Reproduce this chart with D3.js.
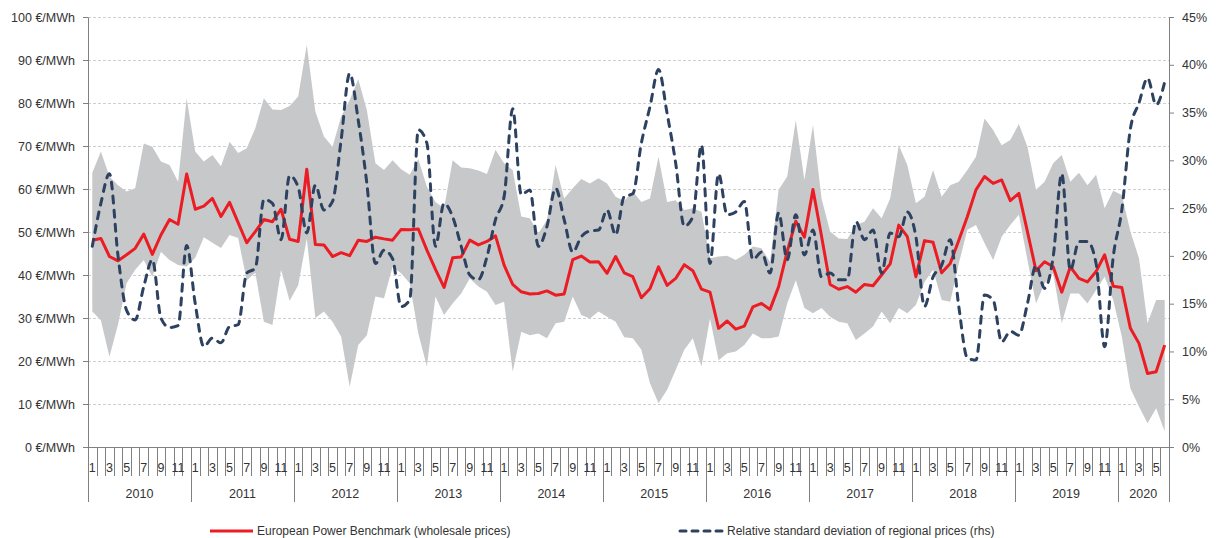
<!DOCTYPE html>
<html>
<head>
<meta charset="utf-8">
<script src="https://cdn.jsdelivr.net/npm/d3@7"></script>
<style>
  body { margin: 0; background: #fff; }
  svg { font-family: "Liberation Sans", Arial, sans-serif; }
  .axis text { fill: #333; font-size: 12.5px; }
  .axis path, .axis line { stroke: #808080; }
  .mlabel { opacity: 0.999; }
</style>
</head>
<body>
<div id="chart"></div>
<script>
// categories: monthly, Jan 2010 - Jun 2020
var years = [2010, 2011, 2012, 2013, 2014, 2015, 2016, 2017, 2018, 2019, 2020];
var monthsInYear = [12, 12, 12, 12, 12, 12, 12, 12, 12, 12, 6];
var monthLabels = ['1', '', '3', '', '5', '', '7', '', '9', '', '11', ''];

// European Power Benchmark (EUR/MWh)
var benchmark = [
  48.1, 48.5, 44.3, 43.3, 44.7, 46.2, 49.5, 44.8, 49.3, 52.9, 51.8, 63.5,
  55.3, 56.0, 57.8, 53.6, 56.9, 52.2, 47.5, 50.1, 52.9, 52.4, 55.3, 48.3,
  47.8, 64.6, 47.1, 47.0, 44.3, 45.2, 44.5, 48.1, 47.8, 48.8, 48.4, 48.1,
  50.6, 50.5, 50.7, 45.8, 41.3, 37.1, 44.0, 44.2, 48.1, 47.0, 47.8, 49.1,
  42.3, 37.8, 36.1, 35.6, 35.7, 36.3, 35.3, 35.6, 43.6, 44.4, 43.0, 43.1,
  40.4, 44.3, 40.5, 39.6, 34.7, 36.8, 41.9, 37.6, 39.2, 42.4, 41.0, 36.7,
  36.0, 27.6, 29.3, 27.4, 28.1, 32.6, 33.4, 32.0, 37.3, 45.5, 52.5, 48.8,
  59.9, 49.0, 37.8, 36.7, 37.3, 36.0, 37.8, 37.5, 40.0, 42.6, 51.6, 48.9,
  39.6, 48.0, 47.6, 40.5, 42.7, 48.1, 53.6, 59.8, 62.9, 61.3, 62.1, 57.3,
  59.0, 50.1, 41.0, 43.1, 41.9, 36.0, 41.9, 39.2, 38.4, 40.8, 44.7, 37.4,
  37.1, 27.6, 24.1, 17.1, 17.5, 23.7
];

// relative standard deviation of regional prices (%, rhs)
var relStdDev = [
  21.0, 25.5, 28.6, 20.0, 14.3, 13.3, 16.8, 19.6, 13.5, 12.5, 12.7, 21.1,
  15.0, 10.5, 11.4, 10.9, 12.6, 12.8, 18.2, 18.7, 25.9, 25.5, 21.7, 28.4,
  27.2, 22.4, 27.4, 24.8, 25.7, 32.1, 39.1, 34.2, 27.6, 19.2, 20.6, 19.7,
  14.7, 15.4, 33.2, 31.8, 21.0, 25.5, 24.1, 21.0, 18.0, 17.5, 19.9, 23.8,
  26.2, 35.4, 26.4, 26.9, 21.0, 23.1, 27.1, 23.8, 20.4, 22.0, 22.6, 22.7,
  24.8, 22.2, 26.2, 26.5, 31.8, 35.6, 39.5, 34.9, 29.7, 23.1, 24.1, 31.6,
  19.2, 28.6, 24.3, 24.6, 25.7, 19.6, 20.4, 18.2, 24.5, 19.6, 24.3, 20.1,
  22.7, 17.8, 18.2, 17.5, 17.5, 23.6, 21.7, 22.7, 18.2, 22.4, 22.0, 24.6,
  22.0, 14.7, 17.8, 19.0, 21.7, 14.7, 9.3, 9.1, 15.9, 15.4, 11.0, 12.1,
  11.7, 15.0, 19.0, 16.6, 19.9, 28.6, 18.5, 21.5, 21.5, 19.2, 10.5, 19.9,
  24.8, 33.3, 36.0, 38.6, 35.8, 38.2
];

// min / max of regional prices (grey band, EUR/MWh)
var rangeHigh = [
  63.8, 68.7, 62.9, 60.9, 59.4, 60.2, 70.6, 69.8, 66.4, 65.6, 61.7, 81.1,
  68.7, 66.4, 67.9, 65.3, 71.0, 68.4, 69.5, 74.1, 81.1, 78.5, 78.4, 79.3,
  81.5, 93.5, 78.0, 72.2, 69.8, 76.8, 80.7, 85.5, 78.4, 66.0, 64.4, 66.7,
  64.6, 63.3, 67.0, 60.5, 57.0, 55.5, 66.7, 65.0, 64.8, 64.3, 63.5, 69.1,
  66.0, 64.4, 53.6, 53.2, 49.7, 52.8, 65.6, 57.8, 60.2, 62.3, 61.3, 62.5,
  61.3, 58.2, 57.2, 59.4, 57.0, 57.8, 67.5, 57.0, 57.4, 55.1, 55.5, 54.7,
  43.9, 44.3, 44.5, 43.5, 44.7, 46.6, 46.2, 43.0, 59.8, 62.9, 76.0, 62.1,
  74.9, 57.8, 50.1, 48.5, 48.4, 51.6, 52.4, 55.5, 53.2, 57.8, 70.2, 65.6,
  56.7, 58.2, 64.4, 58.2, 60.9, 61.7, 64.4, 67.5, 76.4, 73.7, 70.2, 71.4,
  75.1, 69.8, 59.8, 61.7, 66.0, 67.9, 61.7, 63.8, 60.9, 63.3, 55.5, 59.6,
  58.6, 50.1, 43.9, 28.8, 34.2, 34.2
];
var rangeLow = [
  31.5, 29.5, 21.0, 28.5, 38.1, 41.2, 43.5, 39.6, 45.4, 43.5, 42.3, 42.0,
  44.0, 48.8, 47.5, 46.3, 49.3, 48.6, 38.8, 40.5, 29.1, 28.4, 41.2, 34.0,
  37.6, 48.5, 30.0, 31.5, 29.1, 25.7, 14.0, 23.7, 26.0, 35.0, 34.6, 41.9,
  40.4, 38.1, 26.4, 18.7, 35.0, 30.7, 33.4, 35.7, 39.2, 37.3, 36.1, 33.0,
  33.8, 17.5, 26.8, 26.0, 26.4, 25.3, 28.8, 29.1, 35.0, 30.7, 29.9, 31.5,
  30.3, 29.1, 25.5, 25.3, 22.6, 14.8, 10.2, 13.3, 17.9, 22.6, 25.3, 18.7,
  29.9, 20.2, 21.8, 22.2, 23.7, 26.4, 25.3, 25.3, 25.7, 33.4, 38.8, 32.3,
  31.1, 32.3, 30.3, 29.1, 28.8, 24.9, 26.4, 28.0, 31.5, 28.8, 32.3, 31.1,
  33.0, 38.4, 41.2, 34.2, 33.8, 42.7, 50.5, 51.6, 47.4, 43.5, 48.9, 51.6,
  54.0, 43.5, 33.4, 38.1, 40.4, 28.8, 35.7, 35.7, 33.4, 36.5, 39.6, 34.2,
  25.7, 13.6, 9.4, 5.5, 9.0, 3.6
];

var width = 1218,
  height = 538,
  margin = { left: 88, right: 49, top: 17, bottom: 91 },
  red = '#ec1c24',
  navy = '#2d4160',
  grey = '#c7c8ca';

// build month table from the categories
var months = [];
years.forEach(function(y, yi) {
  for (var m = 0; m < monthsInYear[yi]; m++) {
    months.push({ year: y, month: m, yi: yi });
  }
});
var data = months.map(function(d, i) {
  return { i: i, month: d.month, year: d.year, bench: benchmark[i], rsd: relStdDev[i], lo: rangeLow[i], hi: rangeHigh[i] };
});

var svg = d3.select('#chart').append('svg')
  .attr('width', width)
  .attr('height', height);

var x = d3.scaleBand()
  .domain(d3.range(data.length))
  .range([margin.left, width - margin.right])
  .padding(0);
var bw = x.bandwidth();
var cx = function(i) { return x(i) + bw / 2; };
var plotBottom = height - margin.bottom;

var yLeft = d3.scaleLinear().domain([0, 100]).range([plotBottom, margin.top]);
var yRight = d3.scaleLinear().domain([0, 45]).range([plotBottom, margin.top]);

// gridlines
svg.append('g').attr('class', 'grid')
  .selectAll('line')
  .data(d3.range(10, 101, 10))
  .enter().append('line')
    .attr('x1', margin.left)
    .attr('x2', width - margin.right)
    .attr('y1', function(d) { return yLeft(d) + 0.5; })
    .attr('y2', function(d) { return yLeft(d) + 0.5; })
    .attr('stroke', '#cfcfcf')
    .attr('stroke-dasharray', '3,2');

// grey band
var area = d3.area()
  .x(function(d) { return cx(d.i); })
  .y0(function(d) { return yLeft(d.lo); })
  .y1(function(d) { return yLeft(d.hi); });
svg.append('path')
  .datum(data)
  .attr('d', area)
  .attr('fill', grey);

// benchmark line
var benchLine = d3.line()
  .x(function(d) { return cx(d.i); })
  .y(function(d) { return yLeft(d.bench); });
svg.append('path')
  .datum(data)
  .attr('d', benchLine)
  .attr('fill', 'none')
  .attr('stroke', red)
  .attr('stroke-width', 3)
  .attr('stroke-linejoin', 'round');

// relative std dev (smoothed, dashed)
var rsdLine = d3.line()
  .x(function(d) { return cx(d.i); })
  .y(function(d) { return yRight(d.rsd); })
  .curve(d3.curveMonotoneX);
svg.append('path')
  .datum(data)
  .attr('d', rsdLine)
  .attr('fill', 'none')
  .attr('stroke', navy)
  .attr('stroke-width', 3)
  .attr('stroke-linecap', 'round')
  .attr('stroke-dasharray', '7,7');

// left axis
svg.append('g').attr('class', 'axis')
  .attr('transform', 'translate(' + margin.left + ',0)')
  .call(d3.axisLeft(yLeft)
    .tickValues(d3.range(0, 101, 10))
    .tickFormat(function(d) { return d + ' \u20ac/MWh'; })
    .tickSizeInner(5).tickSizeOuter(0).tickPadding(8));

// right axis
svg.append('g').attr('class', 'axis')
  .attr('transform', 'translate(' + (width - margin.right) + ',0)')
  .call(d3.axisRight(yRight)
    .tickValues(d3.range(0, 46, 5))
    .tickFormat(function(d) { return d + '%'; })
    .tickSizeInner(5).tickSizeOuter(0).tickPadding(8));

// bottom axis: month ticks, month labels, year separators
var xAxis = svg.append('g').attr('class', 'axis');
xAxis.append('line')
  .attr('x1', margin.left).attr('x2', width - margin.right)
  .attr('y1', plotBottom + 0.5).attr('y2', plotBottom + 0.5);

xAxis.selectAll('.mtick')
  .data(data)
  .enter().append('line')
    .attr('class', 'mtick')
    .attr('x1', function(d) { return Math.round(x(d.i)) + 0.5; })
    .attr('x2', function(d) { return Math.round(x(d.i)) + 0.5; })
    .attr('y1', plotBottom)
    .attr('y2', function(d) { return d.month === 0 ? plotBottom + 55 : plotBottom + 29; });

xAxis.append('line')
  .attr('x1', Math.round(width - margin.right) + 0.5)
  .attr('x2', Math.round(width - margin.right) + 0.5)
  .attr('y1', plotBottom).attr('y2', plotBottom + 55);

xAxis.selectAll('.mlabel')
  .data(data.filter(function(d) { return monthLabels[d.month] !== ''; }))
  .enter().append('text')
    .attr('class', 'mlabel')
    .attr('x', function(d) { return cx(d.i); })
    .attr('y', plotBottom + 25)
    .attr('text-anchor', 'middle')
    .text(function(d) { return monthLabels[d.month]; });

var yearStart = 0;
var yearSpans = years.map(function(y, yi) {
  var s = { year: y, start: yearStart, n: monthsInYear[yi] };
  yearStart += monthsInYear[yi];
  return s;
});
xAxis.selectAll('.ylabel')
  .data(yearSpans)
  .enter().append('text')
    .attr('class', 'ylabel')
    .attr('x', function(d) { return x(d.start) + d.n * bw / 2; })
    .attr('y', plotBottom + 51)
    .attr('text-anchor', 'middle')
    .text(function(d) { return d.year; });

// legend
var legend = svg.append('g')
  .attr('font-size', '12px')
  .attr('fill', '#333');
legend.append('line')
  .attr('x1', 210).attr('x2', 253).attr('y1', 531).attr('y2', 531)
  .attr('stroke', red).attr('stroke-width', 3);
legend.append('text')
  .attr('x', 257).attr('y', 535)
  .text('European Power Benchmark (wholesale prices)');
legend.append('line')
  .attr('x1', 680).attr('x2', 722).attr('y1', 531).attr('y2', 531)
  .attr('stroke', navy).attr('stroke-width', 3)
  .attr('stroke-linecap', 'round')
  .attr('stroke-dasharray', '6,6');
legend.append('text')
  .attr('x', 727).attr('y', 535)
  .text('Relative standard deviation of regional prices (rhs)');
</script>
</body>
</html>
